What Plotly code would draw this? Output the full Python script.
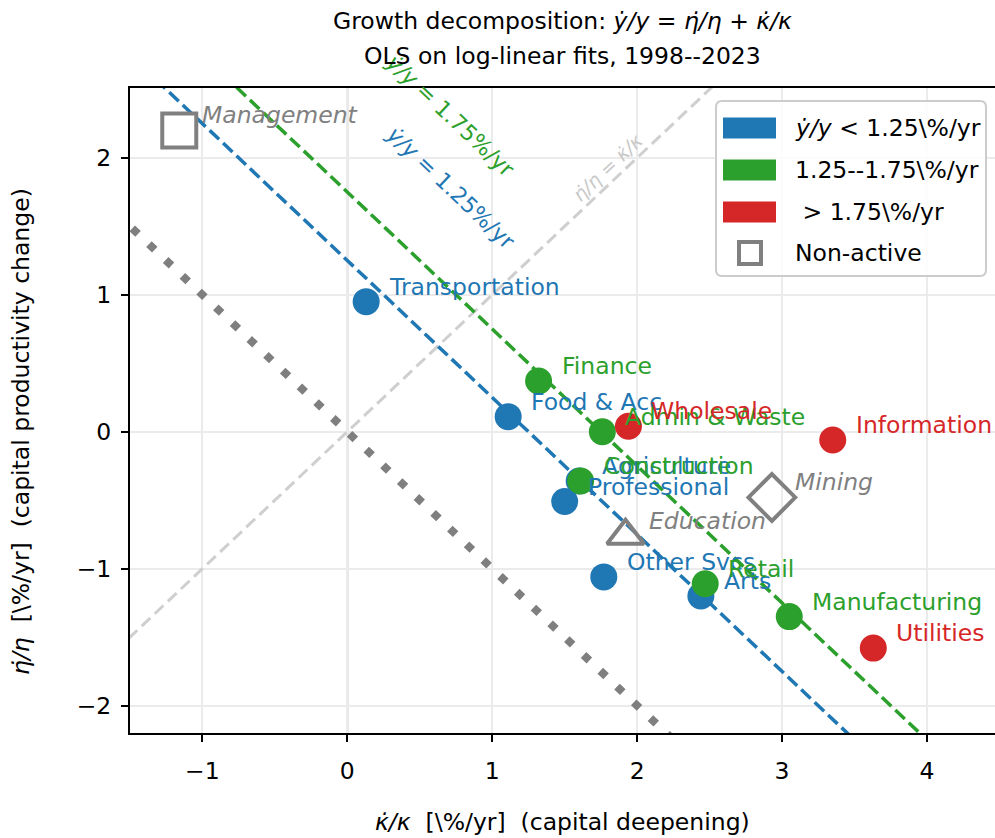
import plotly.graph_objects as go

# ---------------- data ----------------
blue_names = ["Transportation", "Food & Acc", "Agriculture", "Professional", "Other Svcs", "Arts"]
blue_x = [0.13, 1.11, 1.60, 1.50, 1.77, 2.44]
blue_y = [0.95, 0.11, -0.36, -0.51, -1.06, -1.20]

green_names = ["Finance", "Admin & Waste", "Construction", "Retail", "Manufacturing"]
green_x = [1.32, 1.76, 1.61, 2.47, 3.05]
green_y = [0.37, 0.00, -0.36, -1.11, -1.35]

red_names = ["Wholesale", "Information", "Utilities"]
red_x = [1.94, 3.35, 3.63]
red_y = [0.04, -0.06, -1.58]

gray_names = ["Management", "Mining", "Education"]
gray_x = [-1.16, 2.93, 1.92]
gray_y = [2.20, -0.48, -0.76]
gray_symbols = ["square-open", "diamond-open", "triangle-up-open"]
gray_sizes = [34, 36, 32]

growth_levels = [1.25, 1.75]       # iso-growth lines  y/y = const
line_x = [-1.6, 4.6]
x_ticks = [-1, 0, 1, 2, 3, 4]
y_ticks = [-2, -1, 0, 1, 2]

legend_labels = ["<i>ẏ/y</i> < 1.25\\%/yr", "1.25--1.75\\%/yr", " > 1.75\\%/yr", "Non-active"]

BLUE, GREEN, RED, GRAY = "#1f77b4", "#2ca02c", "#d62728", "#808080"
FONT = "DejaVu Sans"
FS = 23.5

# ---------------- layout geometry ----------------
W, H = 995, 838
L, R, T, B = 130, 995, 88, 733


def px(x):
    return (x - L) / (R - L)


def py(y):
    return (B - y) / (B - T)


fig = go.Figure()

# reference line y = x  (eta/eta = kappa/kappa)
fig.add_trace(go.Scatter(x=line_x, y=line_x, mode="lines",
                         line=dict(color="#cfcfcf", width=3, dash="12px,6px"),
                         hoverinfo="skip", showlegend=False))
# zero-growth dotted line
fig.add_trace(go.Scatter(x=line_x, y=[-v for v in line_x], mode="lines",
                         line=dict(color="#7f7f7f", width=8, dash="8px,15px"),
                         hoverinfo="skip", showlegend=False))
# iso-growth lines
for g, c in zip(growth_levels, [BLUE, GREEN]):
    fig.add_trace(go.Scatter(x=line_x, y=[g - v for v in line_x], mode="lines",
                             line=dict(color=c, width=3.5, dash="13px,5.5px"),
                             hoverinfo="skip", showlegend=False))

# scatter groups
for xs, ys, c in [(blue_x, blue_y, BLUE), (green_x, green_y, GREEN), (red_x, red_y, RED)]:
    fig.add_trace(go.Scatter(x=xs, y=ys, mode="markers",
                             marker=dict(color=c, size=27, line=dict(width=0)),
                             showlegend=False))
for xv, yv, s, sz in zip(gray_x, gray_y, gray_symbols, gray_sizes):
    fig.add_trace(go.Scatter(x=[xv], y=[yv], mode="markers",
                             marker=dict(symbol=s, color=GRAY, size=sz, line=dict(color=GRAY, width=4)),
                             showlegend=False))

annotations = []
# point labels
for names, xs, ys, c, it in [(blue_names, blue_x, blue_y, BLUE, False),
                             (green_names, green_x, green_y, GREEN, False),
                             (red_names, red_x, red_y, RED, False),
                             (gray_names, gray_x, gray_y, GRAY, True)]:
    for n, xv, yv in zip(names, xs, ys):
        annotations.append(dict(x=xv, y=yv, xref="x", yref="y", showarrow=False,
                                text=f"<i>{n}</i>" if it else n,
                                xanchor="left", yanchor="middle", xshift=21, yshift=15,
                                font=dict(family=FONT, size=FS, color=c)))

# line labels
annotations.append(dict(x=0.71, y=1.78, xref="x", yref="y", showarrow=False,
                        text="<i>ẏ/y</i> = 1.25%/yr", textangle=43.4,
                        font=dict(family=FONT, size=22, color=BLUE)))
annotations.append(dict(x=0.71, y=2.31, xref="x", yref="y", showarrow=False,
                        text="<i>ẏ/y</i> = 1.75%/yr", textangle=43.4,
                        font=dict(family=FONT, size=22, color=GREEN)))
annotations.append(dict(x=1.80, y=1.93, xref="x", yref="y", showarrow=False,
                        text="<i>η\u0307/η</i> = <i>κ\u0307/κ</i>", textangle=-43.4,
                        font=dict(family=FONT, size=19, color="#c8c8c8")))

# titles
annotations.append(dict(x=0.5, y=py(21), xref="paper", yref="paper", showarrow=False,
                        text="Growth decomposition: <i>ẏ/y</i> = <i>η\u0307/η</i> + <i>κ\u0307/κ</i>",
                        xanchor="center", yanchor="middle",
                        font=dict(family=FONT, size=FS, color="black")))
annotations.append(dict(x=0.5, y=py(56), xref="paper", yref="paper", showarrow=False,
                        text="OLS on log-linear fits, 1998--2023",
                        xanchor="center", yanchor="middle",
                        font=dict(family=FONT, size=FS, color="black")))
# axis titles
annotations.append(dict(x=px(562), y=py(822), xref="paper", yref="paper", showarrow=False,
                        text="<i>κ\u0307/κ</i>  [\\%/yr]  (capital deepening)",
                        xanchor="center", yanchor="middle",
                        font=dict(family=FONT, size=FS, color="black")))
annotations.append(dict(x=px(21), y=py(432), xref="paper", yref="paper", showarrow=False,
                        text="<i>η\u0307/η</i>  [\\%/yr]  (capital productivity change)",
                        textangle=-90, xanchor="center", yanchor="middle",
                        font=dict(family=FONT, size=FS, color="black")))

# ---------------- manual legend ----------------
shapes = []
bx0, bx1, by0, by1, rr = 716, 986, 101, 276, 6
path = (f"M{px(bx0 + rr)},{py(by0)} L{px(bx1 - rr)},{py(by0)} "
        f"Q{px(bx1)},{py(by0)} {px(bx1)},{py(by0 + rr)} "
        f"L{px(bx1)},{py(by1 - rr)} Q{px(bx1)},{py(by1)} {px(bx1 - rr)},{py(by1)} "
        f"L{px(bx0 + rr)},{py(by1)} Q{px(bx0)},{py(by1)} {px(bx0)},{py(by1 - rr)} "
        f"L{px(bx0)},{py(by0 + rr)} Q{px(bx0)},{py(by0)} {px(bx0 + rr)},{py(by0)} Z")
shapes.append(dict(type="path", xref="paper", yref="paper", path=path,
                   line=dict(color="#cccccc", width=2), fillcolor="rgba(255,255,255,0.85)"))
rows = [128, 170, 212, 253]
for yc, c in zip(rows[:3], [BLUE, GREEN, RED]):
    shapes.append(dict(type="rect", xref="paper", yref="paper",
                       x0=px(723), x1=px(776), y0=py(yc - 10.5), y1=py(yc + 10.5),
                       line=dict(width=0), fillcolor=c))
shapes.append(dict(type="rect", xref="paper", yref="paper",
                   x0=px(739), x1=px(761), y0=py(rows[3] - 11), y1=py(rows[3] + 11),
                   line=dict(color=GRAY, width=4), fillcolor="rgba(0,0,0,0)"))
for yc, t in zip(rows, legend_labels):
    annotations.append(dict(x=px(793), y=py(yc), xref="paper", yref="paper", showarrow=False,
                            text=t, xanchor="left", yanchor="middle",
                            font=dict(family=FONT, size=FS, color="black")))

# vertical line at x=0
shapes.insert(0, dict(type="line", xref="x", yref="paper", x0=0, x1=0, y0=0, y1=1,
                      line=dict(color="black", width=1.5), layer="below"))

fig.update_layout(
    width=W, height=H,
    margin=dict(l=L, r=W - R, t=T, b=H - B),
    paper_bgcolor="white", plot_bgcolor="white",
    font=dict(family=FONT, size=FS, color="black"),
    annotations=annotations, shapes=shapes,
    showlegend=False,
    xaxis=dict(range=[-1.5, 4.47], tickvals=x_ticks, showgrid=True, gridcolor="#ebebeb", gridwidth=2,
               zeroline=False, showline=True, linecolor="black", linewidth=2, mirror=True,
               ticks="outside", ticklen=7, tickwidth=2, tickcolor="black", ticklabelstandoff=9,
               tickfont=dict(family=FONT, size=FS, color="black")),
    yaxis=dict(range=[-2.2, 2.51], tickvals=y_ticks, showgrid=True, gridcolor="#ebebeb", gridwidth=2,
               zeroline=False, showline=True, linecolor="black", linewidth=2, mirror=False,
               ticks="outside", ticklen=7, tickwidth=2, tickcolor="black", ticklabelstandoff=5,
               tickfont=dict(family=FONT, size=FS, color="black")),
)

fig.write_html("out.html")
